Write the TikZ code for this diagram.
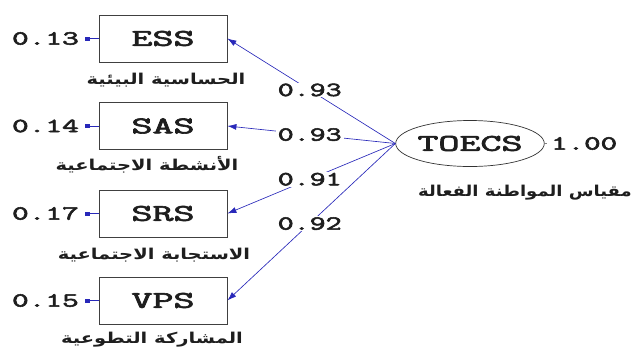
\documentclass[tikz,border=0pt]{standalone}
\usepackage{fontspec}
\newfontfamily\arabicfont[Script=Arabic]{DejaVu Sans}
\newfontfamily\cour[FakeBold=2.5]{Latin Modern Mono}
\TeXXeTstate=1
\usetikzlibrary{arrows.meta,shapes.geometric}
\newcommand{\wx}[2]{\scalebox{#1}[1]{#2}}
\definecolor{lnblue}{RGB}{40,40,185}
\definecolor{txt}{RGB}{30,30,30}
\begin{document}
\begin{tikzpicture}[x=1pt,y=-1pt,
  box/.style={draw=black!75, line width=0.8pt, minimum width=128pt, minimum height=47pt, inner sep=0pt, text=txt, font=\cour\fontsize{24}{24}\selectfont},
  lat/.style={ellipse, draw=black!80, line width=0.7pt, minimum width=125pt, minimum height=46pt, inner sep=0pt, text=txt, font=\cour\fontsize{24}{24}\selectfont},
  num/.style={inner xsep=4pt, inner ysep=1pt, text=txt, font=\cour\fontsize{20}{20}\selectfont},
  lbl/.style={num, fill=white, inner xsep=2pt},
  ar/.style={inner sep=0pt, text=txt, font=\arabicfont\bfseries\fontsize{15}{15}\selectfont},
  load/.style={draw=lnblue, line width=0.65pt, -{Latex[length=9pt,width=6pt]}, color=lnblue},
  err/.style={draw=lnblue, line width=0.8pt, -{Rectangle[length=5pt,width=4pt]}},
]
\useasboundingbox (0,0) rectangle (638,349);
% observed variables
\node[box] (ess) at (163,38.5) {\wx{1.7}{ESS}};
\node[box] (sas) at (163,126) {\wx{1.7}{SAS}};
\node[box] (srs) at (163,213.5) {\wx{1.7}{SRS}};
\node[box] (vps) at (163,300.5) {\wx{1.7}{VPS}};
% latent
\node[lat] (toecs) at (470,143.5) {\wx{1.7}{TOECS}};
% error terms
\node[num, anchor=east, inner xsep=6pt] (e1) at (85,38.5) {\wx{1.62}{0.13}};
\node[num, anchor=east, inner xsep=6pt] (e2) at (85,126) {\wx{1.62}{0.14}};
\node[num, anchor=east, inner xsep=6pt] (e3) at (85,213.5) {\wx{1.62}{0.17}};
\node[num, anchor=east, inner xsep=6pt] (e4) at (85,300.5) {\wx{1.62}{0.15}};
\draw[err] (ess.west) -- (e1.east);
\draw[err] (sas.west) -- (e2.east);
\draw[err] (srs.west) -- (e3.east);
\draw[err] (vps.west) -- (e4.east);
% latent variance
\node[num, anchor=west] (one) at (547,143.5) {\wx{1.6}{1.00}};
\draw[black!50, line width=0.6pt] (toecs.east) -- (one.west);
% loadings
\draw[load] (toecs.west) -- node[lbl, pos=0.51] (l1) {\wx{1.55}{0.93}} (ess.east);
\draw[load] (toecs.west) -- node[lbl, pos=0.51] (l2) {\wx{1.55}{0.93}} (sas.east);
\draw[load] (toecs.west) -- node[lbl, pos=0.51] (l3) {\wx{1.55}{0.91}} (srs.east);
\draw[load] (toecs.west) -- node[lbl, pos=0.51] (l4) {\wx{1.55}{0.92}} (vps.east);
% Arabic labels
\node[ar] (a1) at (166,80) {\wx{1.3}{\beginR الحساسية البيئية\endR}};
\node[ar] (a2) at (147,165) {\wx{1.3}{\beginR الأنشطة الاجتماعية\endR}};
\node[ar] (a3) at (154,255) {\wx{1.3}{\beginR الاستجابة الاجتماعية\endR}};
\node[ar] (a4) at (152,340) {\wx{1.3}{\beginR المشاركة التطوعية\endR}};
\node[ar] (a5) at (525,193) {\wx{1.2}{\beginR مقياس المواطنة الفعالة\endR}};
\end{tikzpicture}
\end{document}
